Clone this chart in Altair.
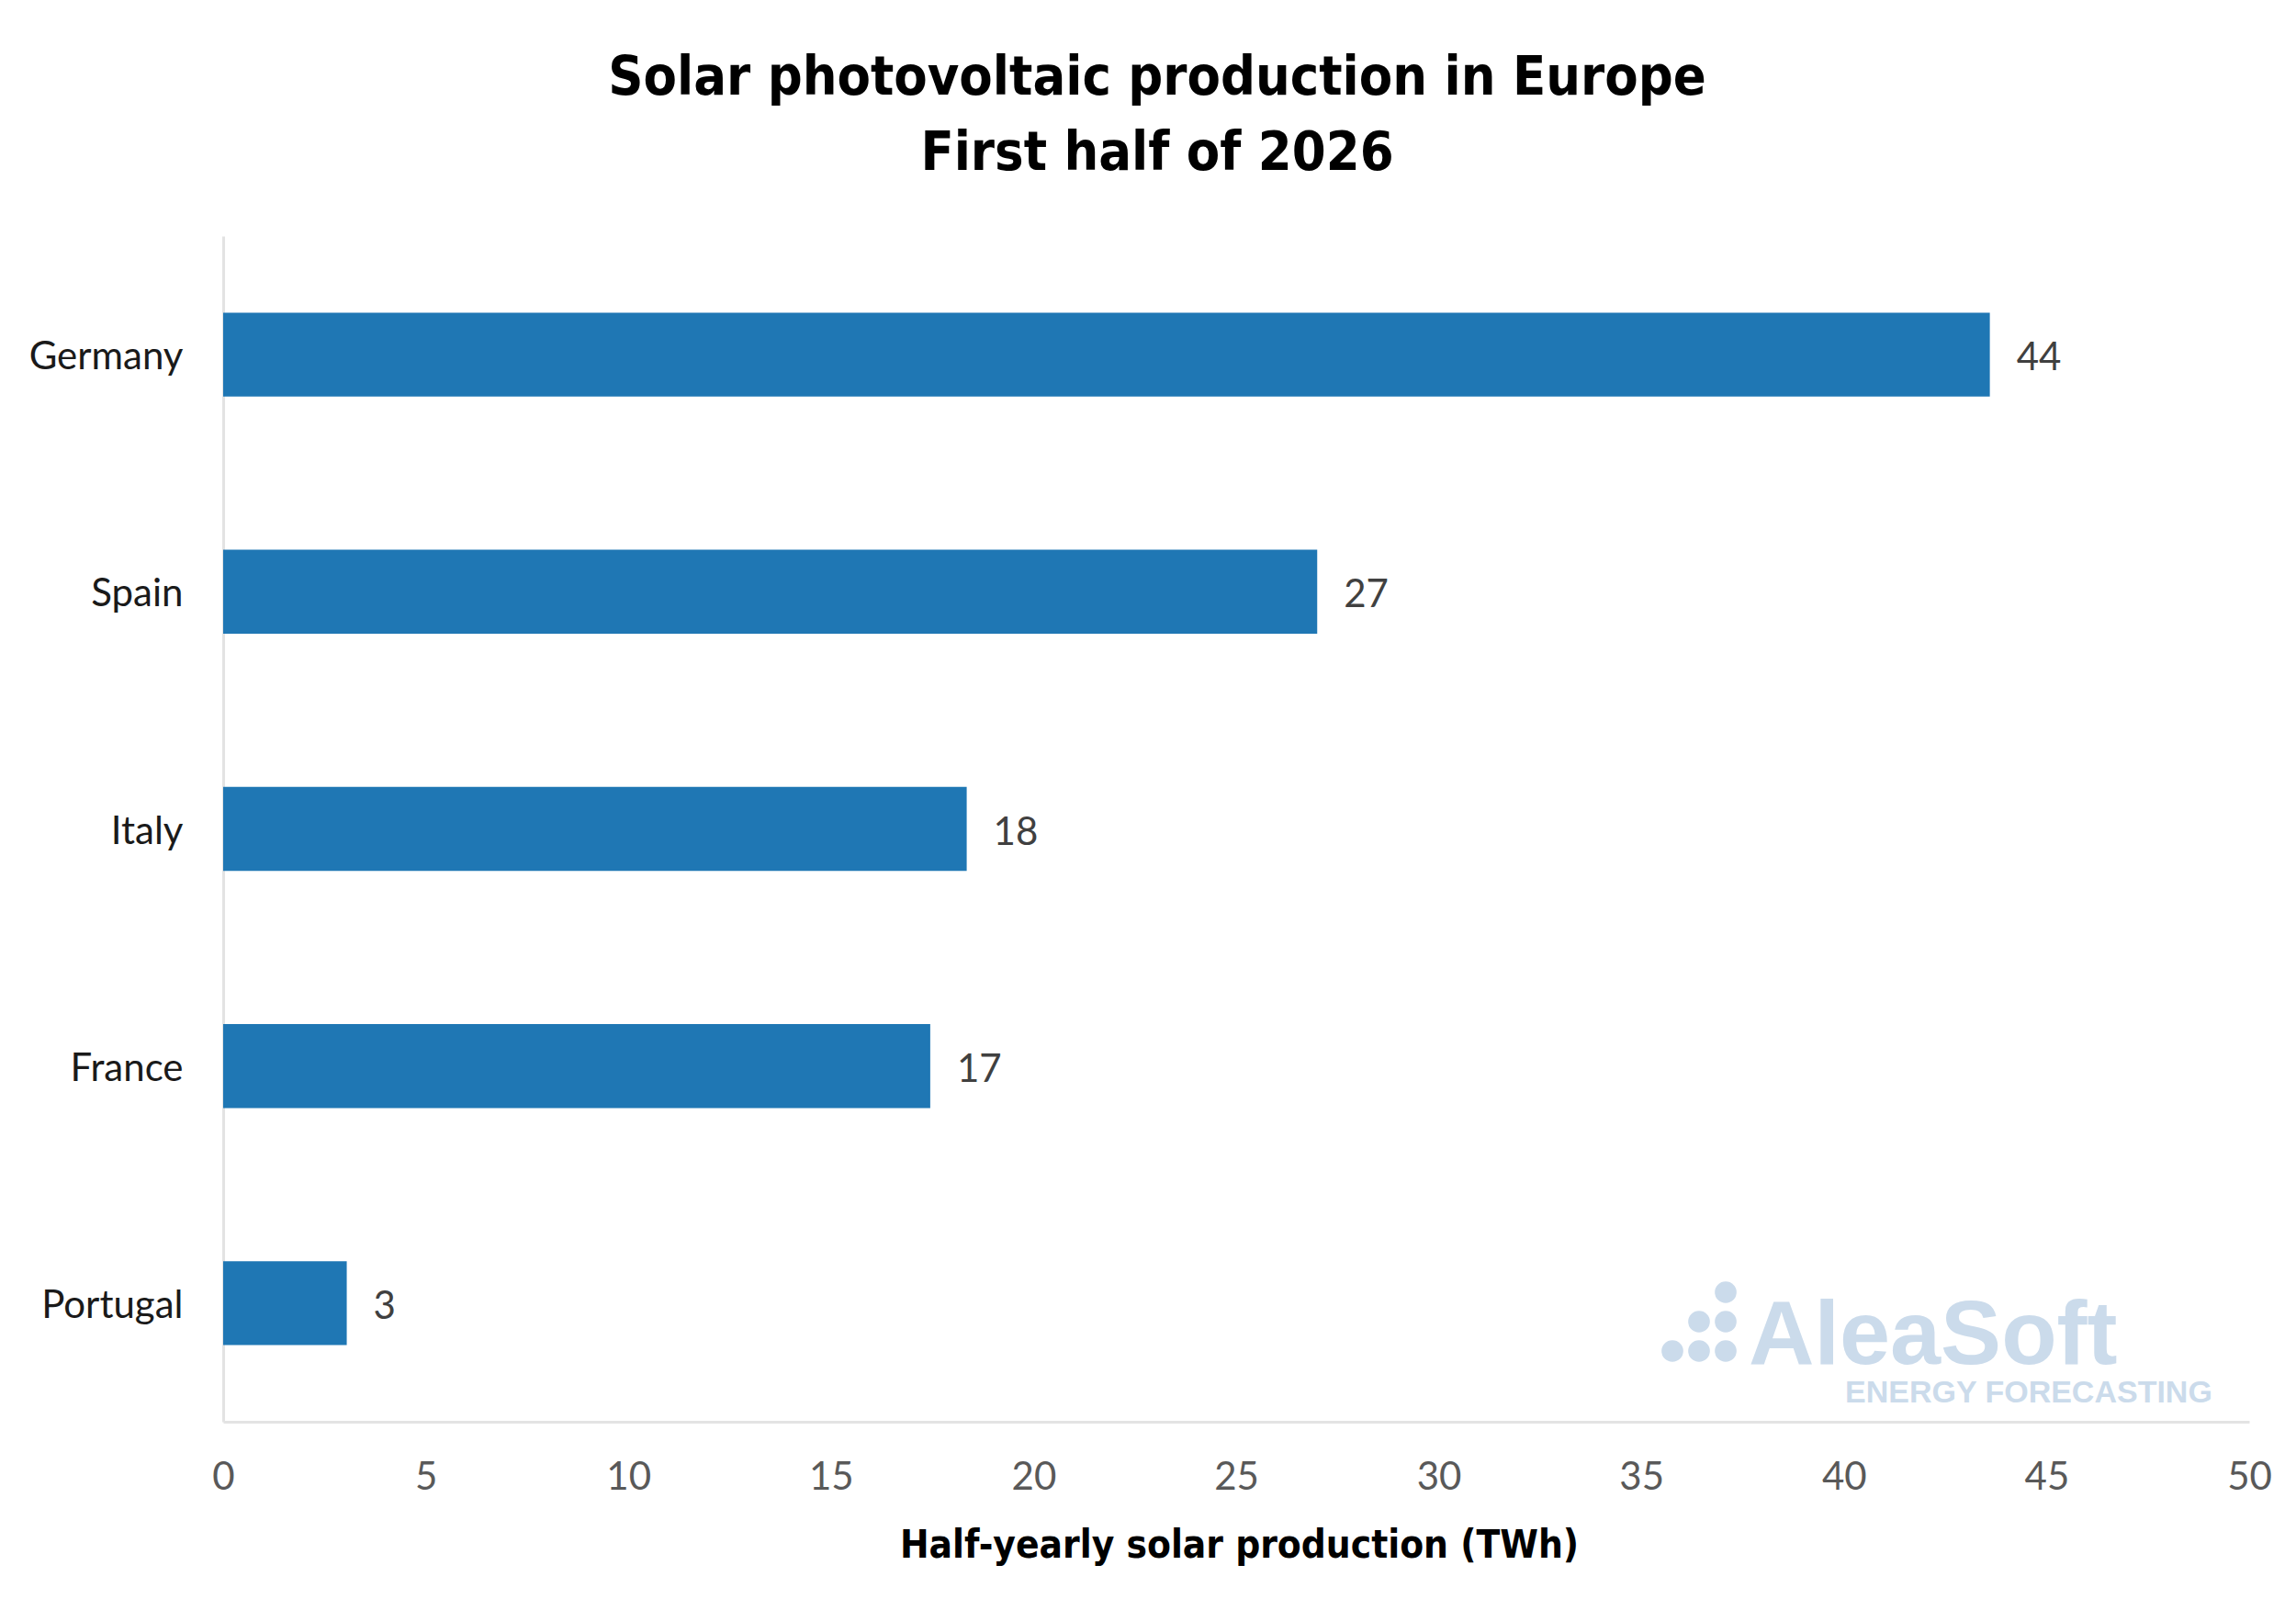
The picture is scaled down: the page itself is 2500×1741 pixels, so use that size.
import altair as alt
import pandas as pd

# ---- data ----
countries = ["Germany", "Spain", "Italy", "France", "Portugal"]
production_twh = [43.6, 27.0, 18.35, 17.45, 3.05]
x_ticks = [0, 5, 10, 15, 20, 25, 30, 35, 40, 45, 50]
title_lines = ["Solar photovoltaic production in Europe", "First half of 2026"]
x_title = "Half-yearly solar production (TWh)"
watermark_main = "AleaSoft"
watermark_sub = "ENERGY FORECASTING"

df = pd.DataFrame({"country": countries, "twh": production_twh})

LABEL_FONT = "Lato"
TITLE_FONT = "DejaVu Sans Condensed, sans-serif"
BAR_COLOR = "#1f77b4"
AXIS_LINE = "#e3e3e3"
WM_COLOR = "#cbdbeb"

y_enc = alt.Y(
    "country:N",
    sort=countries,
    scale=alt.Scale(paddingInner=0.646, paddingOuter=0.323),
    axis=alt.Axis(
        title=None,
        labelFont=LABEL_FONT,
        labelFontSize=42,
        labelColor="#1a1a1a",
        labelPadding=44,
        labelOffset=3,
        ticks=False,
        domainColor=AXIS_LINE,
        domainWidth=3,
        grid=False,
    ),
)
x_enc = alt.X(
    "twh:Q",
    scale=alt.Scale(domain=[0, 50], nice=False),
    axis=alt.Axis(
        values=x_ticks,
        title=x_title,
        titleFont=TITLE_FONT,
        titleFontSize=42,
        titleFontWeight="bold",
        titleColor="#000000",
        titleBaseline="alphabetic",
        titleY=147,
        titleX=1106,
        labelFont=LABEL_FONT,
        labelFontSize=42,
        labelColor="#595959",
        labelPadding=40,
        labelFlush=False,
        labelOverlap=False,
        ticks=False,
        grid=False,
        domainColor=AXIS_LINE,
        domainWidth=3,
    ),
)

base = alt.Chart(df)
bars = base.mark_bar(color=BAR_COLOR).encode(y=y_enc, x=x_enc)
values_text = base.mark_text(
    align="left", baseline="middle", dx=29, dy=4, font=LABEL_FONT, fontSize=42, color="#404040"
).encode(y=alt.Y("country:N", sort=countries), x="twh:Q", text=alt.Text("twh:Q", format=".0f"))

one = pd.DataFrame({"k": [0]})
wm_layers = []
# logo dots (decorative watermark)
for dx_, dy_ in [(1636, 1150), (1607, 1182), (1636, 1182), (1578, 1214), (1607, 1214), (1636, 1214)]:
    wm_layers.append(
        alt.Chart(one).mark_point(filled=True, shape="circle", size=560, color=WM_COLOR, opacity=1)
        .encode(x=alt.value(dx_), y=alt.value(dy_))
    )
wm_layers.append(
    alt.Chart(one).mark_text(
        text=watermark_main, align="left", baseline="alphabetic", font="Liberation Sans",
        fontWeight="bold", fontSize=99, color=WM_COLOR
    ).encode(x=alt.value(1661), y=alt.value(1228))
)
wm_layers.append(
    alt.Chart(one).mark_text(
        text=watermark_sub, align="left", baseline="alphabetic", font="Liberation Sans",
        fontWeight="bold", fontSize=34, color=WM_COLOR
    ).encode(x=alt.value(1766), y=alt.value(1270))
)

chart = alt.layer(*wm_layers, bars, values_text).properties(
    width=2206,
    height=1291,
    autosize=alt.AutoSizeParams(type="none"),
    padding={"left": 235, "top": 249, "right": 43, "bottom": 185},
    background="white",
    title=alt.TitleParams(
        text=title_lines,
        font=TITLE_FONT,
        fontSize=59,
        fontWeight="bold",
        lineHeight=82,
        color="#000000",
        anchor="middle",
        offset=60,
        dx=-86,
    ),
).configure_view(stroke=None)

chart.save("out.html", embed_options={"renderer": "svg", "actions": False})
